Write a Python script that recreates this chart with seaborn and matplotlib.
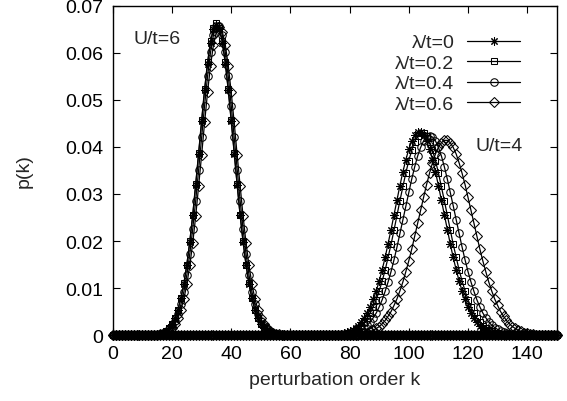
import matplotlib
matplotlib.use("Agg")
import matplotlib.pyplot as plt
import seaborn as sns
import pandas as pd

# ---------------- data ----------------
k_max = 150
lambda_labels = ["λ/t=0", "λ/t=0.2", "λ/t=0.4", "λ/t=0.6"]

# U/t=6 curves: first k of the listed (non-zero) part, then p(k) values
u6_start = [13, 13, 14, 14]
u6_lam0 = [0.0000, 0.0001, 0.0002, 0.0003, 0.0005, 0.0009, 0.0015, 0.0023, 0.0036, 0.0054,
           0.0078, 0.0109, 0.0149, 0.0198, 0.0255, 0.0319, 0.0386, 0.0455, 0.0520, 0.0577,
           0.0622, 0.0650, 0.0660, 0.0650, 0.0622, 0.0577, 0.0520, 0.0455, 0.0386, 0.0319,
           0.0255, 0.0198, 0.0149, 0.0109, 0.0078, 0.0054, 0.0036, 0.0023, 0.0015, 0.0009,
           0.0005, 0.0003, 0.0002, 0.0001, 0.0000]
u6_lam02 = [0.0000, 0.0001, 0.0002, 0.0003, 0.0005, 0.0009, 0.0015, 0.0023, 0.0036, 0.0054,
            0.0078, 0.0110, 0.0150, 0.0199, 0.0256, 0.0321, 0.0388, 0.0457, 0.0523, 0.0580,
            0.0625, 0.0653, 0.0663, 0.0653, 0.0625, 0.0580, 0.0523, 0.0457, 0.0388, 0.0321,
            0.0256, 0.0199, 0.0150, 0.0110, 0.0078, 0.0054, 0.0036, 0.0023, 0.0015, 0.0009,
            0.0005, 0.0003, 0.0002, 0.0001, 0.0000]
u6_lam04 = [0.0000, 0.0001, 0.0002, 0.0004, 0.0007, 0.0012, 0.0019, 0.0029, 0.0044, 0.0065,
            0.0092, 0.0128, 0.0173, 0.0226, 0.0286, 0.0352, 0.0421, 0.0488, 0.0550, 0.0601,
            0.0638, 0.0658, 0.0658, 0.0638, 0.0601, 0.0550, 0.0488, 0.0421, 0.0352, 0.0286,
            0.0226, 0.0173, 0.0128, 0.0092, 0.0065, 0.0044, 0.0029, 0.0019, 0.0012, 0.0007,
            0.0004, 0.0002, 0.0001, 0.0000]
u6_lam06 = [0.0000, 0.0001, 0.0002, 0.0003, 0.0005, 0.0009, 0.0015, 0.0023, 0.0036, 0.0054,
            0.0077, 0.0108, 0.0148, 0.0196, 0.0253, 0.0317, 0.0383, 0.0452, 0.0516, 0.0573,
            0.0617, 0.0645, 0.0655, 0.0645, 0.0617, 0.0573, 0.0516, 0.0452, 0.0383, 0.0317,
            0.0253, 0.0196, 0.0148, 0.0108, 0.0077, 0.0054, 0.0036, 0.0023, 0.0015, 0.0009,
            0.0005, 0.0003, 0.0002, 0.0001, 0.0000]

# U/t=4 curves
u4_start = [73, 74, 76, 79]
u4_lam0 = [0.0001, 0.0001, 0.0001, 0.0002, 0.0003, 0.0004, 0.0006, 0.0008, 0.0011, 0.0015,
           0.0020, 0.0027, 0.0036, 0.0047, 0.0060, 0.0076, 0.0094, 0.0115, 0.0139, 0.0165,
           0.0194, 0.0224, 0.0256, 0.0287, 0.0318, 0.0347, 0.0373, 0.0395, 0.0413, 0.0425,
           0.0431, 0.0431, 0.0425, 0.0413, 0.0395, 0.0373, 0.0347, 0.0318, 0.0287, 0.0256,
           0.0224, 0.0194, 0.0165, 0.0139, 0.0115, 0.0094, 0.0076, 0.0060, 0.0047, 0.0036,
           0.0027, 0.0020, 0.0015, 0.0011, 0.0008, 0.0006, 0.0004, 0.0003, 0.0002, 0.0001,
           0.0001, 0.0001]
u4_lam02 = [0.0001, 0.0001, 0.0001, 0.0002, 0.0003, 0.0004, 0.0005, 0.0008, 0.0011, 0.0015,
            0.0020, 0.0027, 0.0036, 0.0047, 0.0060, 0.0075, 0.0094, 0.0115, 0.0138, 0.0165,
            0.0193, 0.0223, 0.0255, 0.0286, 0.0316, 0.0345, 0.0371, 0.0393, 0.0411, 0.0423,
            0.0429, 0.0429, 0.0423, 0.0411, 0.0393, 0.0371, 0.0345, 0.0316, 0.0286, 0.0255,
            0.0223, 0.0193, 0.0165, 0.0138, 0.0115, 0.0094, 0.0075, 0.0060, 0.0047, 0.0036,
            0.0027, 0.0020, 0.0015, 0.0011, 0.0008, 0.0005, 0.0004, 0.0003, 0.0002, 0.0001,
            0.0001, 0.0001]
u4_lam04 = [0.0001, 0.0001, 0.0001, 0.0002, 0.0003, 0.0004, 0.0006, 0.0009, 0.0012, 0.0016,
            0.0021, 0.0028, 0.0037, 0.0047, 0.0060, 0.0075, 0.0093, 0.0113, 0.0135, 0.0160,
            0.0187, 0.0216, 0.0245, 0.0275, 0.0304, 0.0332, 0.0358, 0.0381, 0.0399, 0.0413,
            0.0421, 0.0424, 0.0421, 0.0413, 0.0399, 0.0381, 0.0358, 0.0332, 0.0304, 0.0275,
            0.0245, 0.0216, 0.0187, 0.0160, 0.0135, 0.0113, 0.0093, 0.0075, 0.0060, 0.0047,
            0.0037, 0.0028, 0.0021, 0.0016, 0.0012, 0.0009, 0.0006, 0.0004, 0.0003, 0.0002,
            0.0001, 0.0001, 0.0001]
u4_lam06 = [0.0000, 0.0001, 0.0001, 0.0001, 0.0002, 0.0003, 0.0004, 0.0005, 0.0008, 0.0010,
            0.0014, 0.0018, 0.0024, 0.0031, 0.0040, 0.0050, 0.0063, 0.0077, 0.0094, 0.0113,
            0.0135, 0.0158, 0.0183, 0.0210, 0.0238, 0.0266, 0.0293, 0.0320, 0.0344, 0.0366,
            0.0385, 0.0399, 0.0409, 0.0414, 0.0414, 0.0409, 0.0399, 0.0385, 0.0366, 0.0344,
            0.0320, 0.0293, 0.0266, 0.0238, 0.0210, 0.0183, 0.0158, 0.0135, 0.0113, 0.0094,
            0.0077, 0.0063, 0.0050, 0.0040, 0.0031, 0.0024, 0.0018, 0.0014, 0.0010, 0.0008,
            0.0005, 0.0004, 0.0003, 0.0002, 0.0001, 0.0001, 0.0001, 0.0000]

x_ticks = [0, 20, 40, 60, 80, 100, 120, 140]
y_ticks = [0, 0.01, 0.02, 0.03, 0.04, 0.05, 0.06, 0.07]
y_tick_labels = ["0", "0.01", "0.02", "0.03", "0.04", "0.05", "0.06", "0.07"]

u6_series = [u6_lam0, u6_lam02, u6_lam04, u6_lam06]
u4_series = [u4_lam0, u4_lam02, u4_lam04, u4_lam06]


def full_series(start, vals):
    # p(k) is zero (on the axis) outside the listed window
    return [0.0] * start + vals + [0.0] * (k_max + 1 - start - len(vals))


rows = []
ks = list(range(k_max + 1))
for i, lab in enumerate(lambda_labels):
    for U, start, vals in ((6, u6_start[i], u6_series[i]), (4, u4_start[i], u4_series[i])):
        for k, p in zip(ks, full_series(start, vals)):
            rows.append({"k": k, "p": p, "lam": lab, "U": U})
df = pd.DataFrame(rows)

# ---------------- plotting ----------------
sns.set_style("ticks")
plt.rcParams["font.family"] = ["Liberation Sans", "DejaVu Sans"]
FS = 14

fig = plt.figure(figsize=(5.67, 4.02), dpi=100)
ax = fig.add_axes([0.199, 0.164, 0.783, 0.819])

markers = [(8, 2, 0), "s", "o", "D"]
msizes = [6.0, 5.0, 5.4, 4.6]
handles = []
for i, lab in enumerate(lambda_labels):
    for U in (6, 4):
        sub = df[(df["lam"] == lab) & (df["U"] == U)]
        n_before = len(ax.lines)
        sns.lineplot(data=sub, x="k", y="p", ax=ax, color="black", linewidth=0.9,
                     marker=markers[i], markersize=msizes[i], markerfacecolor="none",
                     markeredgecolor="black", markeredgewidth=0.75,
                     estimator=None, sort=False, legend=False, clip_on=False)
        if U == 6:
            handles.append(ax.lines[n_before])

ax.set_xlim(0, 150)
ax.set_ylim(0, 0.07)
ax.set_xticks(x_ticks)
ax.set_xticklabels([str(t) for t in x_ticks])
ax.set_yticks(y_ticks)
ax.set_yticklabels(y_tick_labels)
ax.tick_params(direction="in", top=True, right=True, length=5, width=0.8,
               labelsize=FS, pad=7, colors="black")
for s in ax.spines.values():
    s.set_linewidth(1.0)
    s.set_color("black")

ax.set_xlabel("perturbation order k", fontsize=FS)
ax.set_ylabel("p(k)", fontsize=FS)
ax.xaxis.set_label_coords(0.5, -0.11)
ax.yaxis.set_label_coords(-0.18, 0.5)

ax.text(7.0, 0.0630, "U/t=6", fontsize=FS, va="center", ha="left")
ax.text(122.5, 0.0402, "U/t=4", fontsize=FS, va="center", ha="left")

ax.legend(handles, lambda_labels, loc="upper right", bbox_to_anchor=(0.917, 0.915),
          frameon=False, markerfirst=False, handlelength=2.7, handletextpad=0.67,
          labelspacing=0.15, fontsize=FS, borderpad=0, borderaxespad=0)

fig.savefig("out.png", dpi=100)
